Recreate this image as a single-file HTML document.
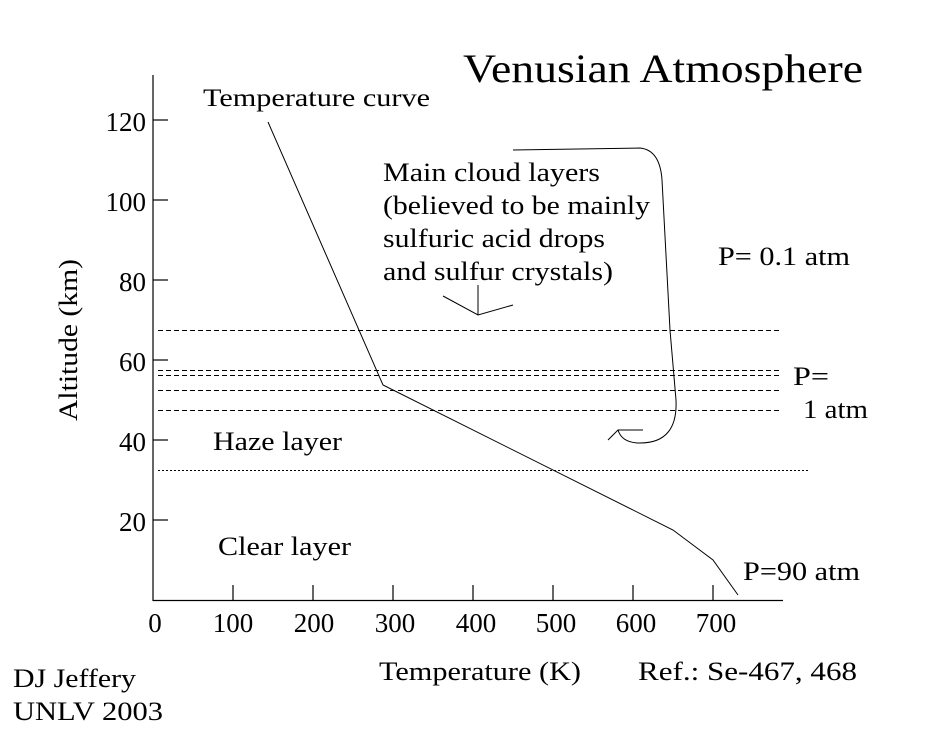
<!DOCTYPE html>
<html><head><meta charset="utf-8"><style>
html,body{margin:0;padding:0;background:#fff;}
svg{display:block;}
text{font-family:"Liberation Serif",serif;fill:#000;}
</style></head><body>
<svg width="930" height="733" viewBox="0 0 930 733" xmlns="http://www.w3.org/2000/svg">
<g stroke="#000" stroke-width="1.2" fill="none">
<line x1="153" y1="75" x2="153" y2="601"/>
<line x1="153" y1="600.5" x2="783" y2="600.5"/>
<line x1="153" y1="120" x2="168" y2="120"/>
<line x1="153" y1="200" x2="168" y2="200"/>
<line x1="153" y1="280" x2="168" y2="280"/>
<line x1="153" y1="360" x2="168" y2="360"/>
<line x1="153" y1="440" x2="168" y2="440"/>
<line x1="153" y1="520" x2="168" y2="520"/>
<line x1="233" y1="585" x2="233" y2="600"/>
<line x1="313" y1="585" x2="313" y2="600"/>
<line x1="393" y1="585" x2="393" y2="600"/>
<line x1="473" y1="585" x2="473" y2="600"/>
<line x1="553" y1="585" x2="553" y2="600"/>
<line x1="633" y1="585" x2="633" y2="600"/>
<line x1="713" y1="585" x2="713" y2="600"/>
</g>
<g stroke="#000" stroke-width="1" fill="none" stroke-dasharray="5,3">
<line x1="158" y1="330.5" x2="782" y2="330.5"/>
<line x1="158" y1="370.5" x2="782" y2="370.5"/>
<line x1="158" y1="375.5" x2="782" y2="375.5"/>
<line x1="158" y1="390.5" x2="782" y2="390.5"/>
<line x1="158" y1="410.5" x2="782" y2="410.5"/>
</g>
<line x1="158" y1="470.5" x2="808" y2="470.5" stroke="#000" stroke-width="1" stroke-dasharray="2,2"/>
<g stroke="#000" stroke-width="1" fill="none">
<polyline points="268,122 383,385 673,530 713,560 738,595"/>
<path d="M513,150 L640,148 Q660,150 662,180 L670,330 L676,400 Q678,443 640,443 Q622,443 618,430"/>
<polyline points="608,440 618,430 643,430"/>
<polyline points="443,296 478,315 513,305"/>
<line x1="478" y1="285" x2="478" y2="315"/>
</g>
<text x="463" y="82" font-size="40" textLength="400" lengthAdjust="spacingAndGlyphs">Venusian Atmosphere</text>
<text x="203" y="106" font-size="25" textLength="227" lengthAdjust="spacingAndGlyphs">Temperature curve</text>
<g font-size="26">
<text x="383" y="181" textLength="217" lengthAdjust="spacingAndGlyphs">Main cloud layers</text>
<text x="383" y="214" textLength="267" lengthAdjust="spacingAndGlyphs">(believed to be mainly</text>
<text x="383" y="247" textLength="222" lengthAdjust="spacingAndGlyphs">sulfuric acid drops</text>
<text x="383" y="280" textLength="230" lengthAdjust="spacingAndGlyphs">and sulfur crystals)</text>
</g>
<g font-size="26">
<text x="718" y="265" textLength="132" lengthAdjust="spacingAndGlyphs">P= 0.1 atm</text>
<text x="793" y="385" textLength="36" lengthAdjust="spacingAndGlyphs">P=</text>
<text x="803" y="418" textLength="65" lengthAdjust="spacingAndGlyphs">1 atm</text>
<text x="213" y="450" textLength="129" lengthAdjust="spacingAndGlyphs">Haze layer</text>
<text x="218" y="555" textLength="133" lengthAdjust="spacingAndGlyphs">Clear layer</text>
<text x="743" y="580" textLength="117" lengthAdjust="spacingAndGlyphs">P=90 atm</text>
</g>
<g font-size="27" text-anchor="end">
<text x="146" y="131">120</text>
<text x="146" y="211">100</text>
<text x="146" y="291">80</text>
<text x="146" y="371">60</text>
<text x="146" y="451">40</text>
<text x="146" y="531">20</text>
</g>
<g font-size="27" text-anchor="middle">
<text x="155" y="632">0</text>
<text x="233" y="632">100</text>
<text x="314" y="632">200</text>
<text x="395" y="632">300</text>
<text x="476" y="632">400</text>
<text x="556" y="632">500</text>
<text x="636" y="632">600</text>
<text x="716" y="632">700</text>
</g>
<text font-size="26" transform="translate(77,340) rotate(-90)" text-anchor="middle" textLength="162" lengthAdjust="spacingAndGlyphs">Altitude (km)</text>
<g font-size="26">
<text x="379" y="680" textLength="202" lengthAdjust="spacingAndGlyphs">Temperature (K)</text>
<text x="638" y="680" textLength="219" lengthAdjust="spacingAndGlyphs">Ref.:  Se-467, 468</text>
<text x="13" y="687" textLength="123" lengthAdjust="spacingAndGlyphs">DJ Jeffery</text>
<text x="13" y="720" textLength="150" lengthAdjust="spacingAndGlyphs">UNLV 2003</text>
</g>
</svg>
</body></html>
